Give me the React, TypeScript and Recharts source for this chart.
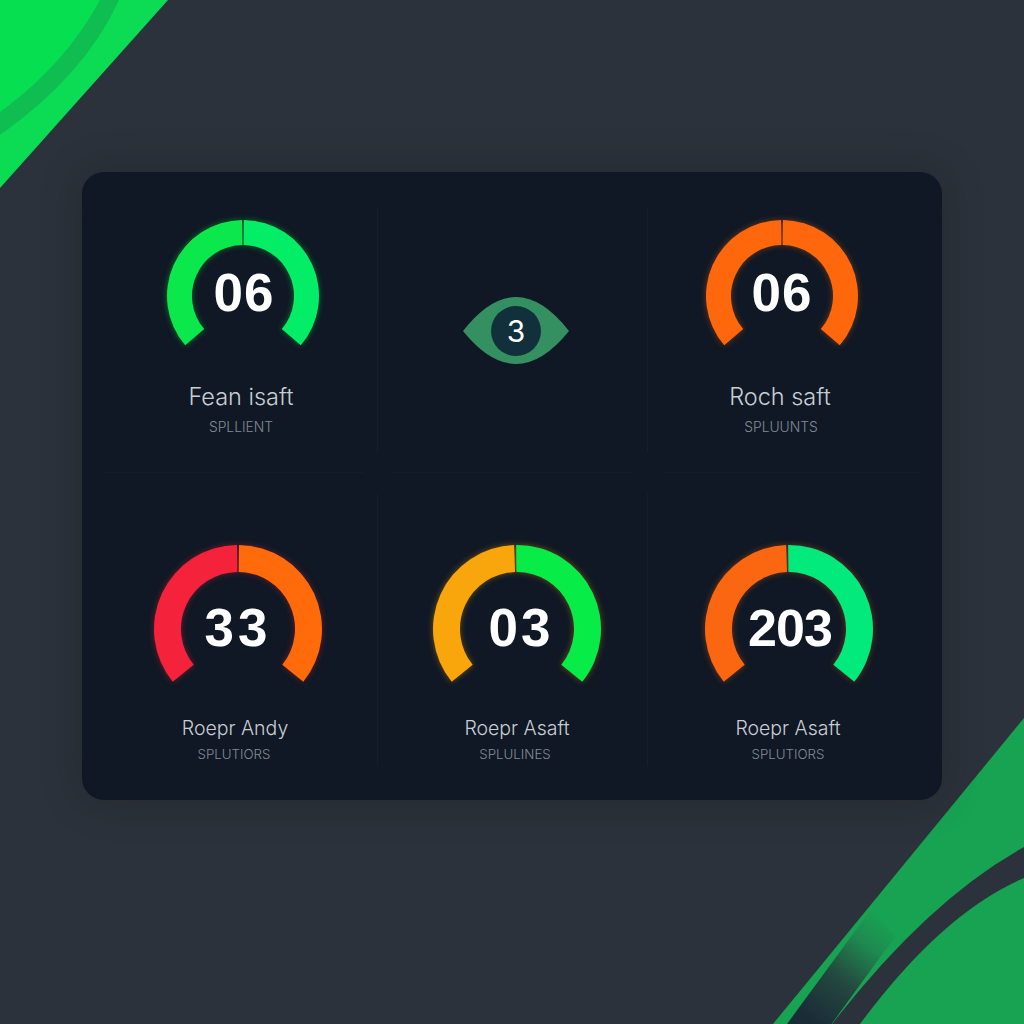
import React from "react";
import { PieChart, Pie, Cell } from "recharts";

// gauges, reading order, without the eye in the top middle
const gaugeValues = ["06", "06", "33", "03", "203"];
const gaugeNames = ["Fean isaft", "Roch saft", "Roepr Andy", "Roepr Asaft", "Roepr Asaft"];
const gaugeSubs = ["SPLLIENT", "SPLUUNTS", "SPLUTIORS", "SPLULINES", "SPLUTIORS"];
const leftShare = [50, 50, 50, 49.5, 49.5];
const rightShare = [50, 50, 50, 50.5, 50.5];
const leftColors = ["#0be84c", "#ff670d", "#f5223c", "#f9a50c", "#fb6610"];
const rightColors = ["#03ee66", "#ff670d", "#ff6a0a", "#08ec48", "#02ea7c"];

const eyeValue = "3";

const layout = [
  { cx: 243, cy: 296, r: 76, ir: 51, tilt: 40.5, numX: 244, numY: 293, nameX: 241, subX: 241, nameY: 397, subY: 427, font: 53, spacing: 1, nameSize: 23.5, subSize: 13.8 },
  { cx: 782, cy: 296, r: 76, ir: 51, tilt: 40.5, numX: 782, numY: 293, nameX: 780, subX: 781, nameY: 397, subY: 427, font: 53, spacing: 1, nameSize: 23.5, subSize: 13.8 },
  { cx: 238, cy: 629, r: 84, ir: 57, tilt: 39, numX: 238, numY: 628, nameX: 235, subX: 234, nameY: 728, subY: 754, font: 53, spacing: 4, nameSize: 19.5, subSize: 13.3 },
  { cx: 517, cy: 629, r: 84, ir: 57, tilt: 39, numX: 521, numY: 628, nameX: 517, subX: 515, nameY: 728, subY: 754, font: 53, spacing: 3, nameSize: 19.5, subSize: 13.3 },
  { cx: 789, cy: 629, r: 84, ir: 57, tilt: 39, numX: 790, numY: 628, nameX: 788, subX: 788, nameY: 728, subY: 754, font: 52, spacing: -1, nameSize: 19.5, subSize: 13.3 },
];

const Caption = ({ x, y, size, color, weight, family = "Inter", spacing, children }: any) => (
  <div
    style={{
      position: "absolute",
      left: x - 150,
      top: y - 30,
      width: 300,
      height: 60,
      lineHeight: "60px",
      textAlign: "center",
      fontFamily: family,
      fontSize: size,
      color,
      fontWeight: weight,
      letterSpacing: spacing,
    }}
  >
    {children}
  </div>
);

const Gauge = ({ index }: { index: number }) => {
  const g = layout[index];
  const size = g.r * 2 + 40;
  const data = [
    { name: "left", value: leftShare[index] },
    { name: "right", value: rightShare[index] },
  ];
  return (
    <>
      <div
        style={{
          position: "absolute",
          left: g.cx - size / 2,
          top: g.cy - size / 2,
          filter: `drop-shadow(0 0 3px ${leftColors[index]}66)`,
        }}
      >
        <PieChart width={size} height={size} margin={{ top: 0, right: 0, bottom: 0, left: 0 }}>
          <Pie
            data={data}
            dataKey="value"
            cx={size / 2}
            cy={size / 2}
            innerRadius={g.ir}
            outerRadius={g.r}
            startAngle={180 + g.tilt}
            endAngle={-g.tilt}
            paddingAngle={1.4}
            stroke="none"
            isAnimationActive={false}
          >
            <Cell fill={leftColors[index]} />
            <Cell fill={rightColors[index]} />
          </Pie>
        </PieChart>
      </div>
      <Caption x={g.numX} y={g.numY} size={g.font} color="#ffffff" weight={700} family="Liberation Sans" spacing={g.spacing}>
        {gaugeValues[index]}
      </Caption>
      <Caption x={g.nameX} y={g.nameY} size={g.nameSize} color="#c9ced4" weight={300}>
        {gaugeNames[index]}
      </Caption>
      <Caption x={g.subX} y={g.subY} size={g.subSize} color="#828b95" weight={300}>
        {gaugeSubs[index]}
      </Caption>
    </>
  );
};

const Backdrop = () => (
  <svg width={1024} height={1024} style={{ position: "absolute", left: 0, top: 0 }}>
    <defs>
      <linearGradient id="stripFade" x1="0.85" y1="0.05" x2="0.2" y2="0.95">
        <stop offset="0" stopColor="#17a352" />
        <stop offset="0.25" stopColor="#1f8a50" />
        <stop offset="0.6" stopColor="#24483f" />
        <stop offset="1" stopColor="#1a2c38" />
      </linearGradient>
    </defs>
    <path d="M0,0 L168,0 L0,188 Z" fill="#0cdc54" />
    <path d="M0,0 L100,0 Q65,65 0,112 Z" fill="#06df4f" />
    <path d="M119,0 Q85,75 0,135 L0,112 Q65,65 100,0 Z" fill="#10bd50" />
    <path d="M1024,718 L773,1024 L1024,1024 Z" fill="#17a352" />
    <path d="M872,908 L787,1024 L832,1024 L895,937 Q882,920 872,908 Z" fill="url(#stripFade)" />
    <path d="M832,1024 L886,950" stroke="#17a352" strokeWidth={1} fill="none" />
    <path d="M1024,847 Q928,900 832,1024 L860,1024 Q942,913 1024,878 Z" fill="#2c323b" />
  </svg>
);

const Panel = () => (
  <div
    style={{
      position: "absolute",
      left: 82,
      top: 172,
      width: 860,
      height: 628,
      borderRadius: 22,
      background: "#0f1824",
      boxShadow: "0 0 40px rgba(10,14,20,0.25)",
    }}
  >
    {[295, 565].map((x) => (
      <React.Fragment key={x}>
        <div style={{ position: "absolute", left: x, top: 36, width: 1, height: 244, background: "#151f2b" }} />
        <div style={{ position: "absolute", left: x, top: 322, width: 1, height: 272, background: "#151f2b" }} />
      </React.Fragment>
    ))}
    {[[20, 262], [310, 242], [580, 260]].map(([x, w]) => (
      <div key={x} style={{ position: "absolute", left: x, top: 300, width: w, height: 1, background: "#131c28" }} />
    ))}
  </div>
);

const Eye = () => (
  <>
    <svg width={1024} height={1024} style={{ position: "absolute", left: 0, top: 0 }}>
      <path d="M463,331 Q516,263 569,331 Q516,397 463,331 Z" fill="#349061" />
      <circle cx={516} cy={331} r={25} fill="#12303b" />
    </svg>
    <Caption x={516} y={331} size={30} color="#ffffff" weight={400}>
      {eyeValue}
    </Caption>
  </>
);

export default function App() {
  return (
    <div
      style={{
        position: "absolute",
        left: 0,
        top: 0,
        width: 1024,
        height: 1024,
        overflow: "hidden",
        background: "#2c323b",
      }}
    >
      <Backdrop />
      <Panel />
      <Eye />
      {gaugeValues.map((_, i) => (
        <Gauge key={i} index={i} />
      ))}
    </div>
  );
}
